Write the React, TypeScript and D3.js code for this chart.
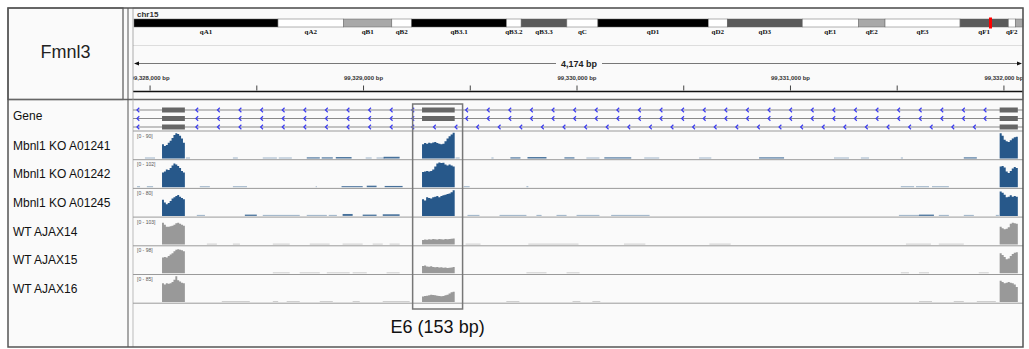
import React from 'react';
import * as d3 from 'd3';

// genomic window shown (chr15, bp)
const WIN_START = 99327920;
const WIN_END = 99332094;
const CHR_NAME = 'chr15';
const CHR_LEN = 103.1; // Mb
const LOCUS_MB = 99.33;
const GENE_NAME = 'Fmnl3';

// cytobands of chr15 (end position in Mb)
const BAND_NAMES = ['qA1', 'qA2', 'qB1', 'qB2', 'qB3.1', 'qB3.2', 'qB3.3', 'qC', 'qD1', 'qD2', 'qD3', 'qE1', 'qE2', 'qE3', 'qF1', 'qF2', 'qF3'];
const BAND_ENDS = [16.7, 24.3, 29.9, 32.2, 43.2, 44.9, 50.2, 53.8, 66.6, 68.8, 77.5, 84.0, 87.1, 95.8, 101.4, 102.2, 103.1];
const BAND_STAINS = ['gpos100', 'gneg', 'gpos50', 'gneg', 'gpos100', 'gneg', 'gpos75', 'gneg', 'gpos100', 'gneg', 'gpos75', 'gneg', 'gpos50', 'gneg', 'gpos75', 'gneg', 'gpos50'];

// exons, as bp offsets from WIN_START: first exon, E6, last exon
const EXONS: [number, number][] = [[136, 243], [1354, 1507], [4060, 4145]];
// which exons each transcript uses (3rd one skips E6)
const TRANSCRIPTS = [[0, 1, 2], [0, 1, 2], [0, 2]];
// boxed region around E6 (offsets)
const HIGHLIGHT: [number, number] = [1310, 1544];

const TRACK_NAMES = ['Mbnl1 KO A01241', 'Mbnl1 KO A01242', 'Mbnl1 KO A01245', 'WT AJAX14', 'WT AJAX15', 'WT AJAX16'];
const TRACK_MAX = [90, 102, 80, 103, 98, 85];
const TRACK_KO = [true, true, true, false, false, false];

// read coverage across each exon (evenly spaced samples)
const COV_EXON1 = [
  [50, 44, 47, 55, 62, 72, 82, 88, 86, 80, 70, 55],
  [58, 62, 70, 68, 76, 86, 94, 90, 84, 76, 64, 58],
  [50, 42, 36, 40, 46, 54, 58, 62, 65, 60, 56, 52],
  [88, 80, 72, 72, 74, 76, 80, 86, 88, 84, 80, 76],
  [60, 62, 60, 66, 72, 76, 84, 90, 92, 90, 88, 84],
  [62, 58, 62, 60, 62, 66, 74, 85, 72, 68, 64, 62],
];
const COV_E6 = [
  [50, 54, 52, 55, 53, 56, 58, 54, 52, 50, 52, 60, 70, 78, 84, 90],
  [60, 62, 64, 62, 64, 70, 82, 94, 98, 96, 97, 90, 86, 90, 86, 82],
  [52, 48, 58, 56, 54, 58, 60, 62, 58, 62, 64, 66, 68, 70, 74, 80],
  [18, 20, 19, 21, 20, 22, 21, 20, 22, 21, 20, 22, 21, 22, 23, 24],
  [28, 30, 26, 25, 27, 24, 23, 24, 22, 23, 21, 22, 20, 21, 22, 24],
  [18, 20, 21, 22, 24, 23, 22, 21, 20, 19, 20, 22, 24, 28, 32, 34],
];
const COV_LAST = [
  [88, 80, 66, 60, 58, 64, 70, 74, 76],
  [82, 84, 78, 62, 56, 64, 74, 80, 76],
  [76, 72, 66, 58, 60, 64, 60, 62, 60],
  [72, 66, 62, 64, 70, 84, 88, 86, 84],
  [76, 70, 62, 54, 56, 66, 74, 78, 80],
  [70, 66, 62, 64, 66, 64, 62, 58, 50],
];

// low background coverage: [start offset, end offset, reads]
const BG_COV: [number, number, number][][] = [
  [[56, 103, 3], [248, 267, 2], [468, 491, 3], [608, 674, 3], [683, 744, 3], [814, 875, 4], [884, 936, 4], [950, 1024, 5], [1090, 1118, 3], [1141, 1179, 3], [1174, 1249, 6], [1511, 1530, 3], [1679, 1689, 3], [1768, 1815, 4], [1848, 1937, 5], [2021, 2068, 4], [2124, 2185, 3], [2208, 2334, 4], [2395, 2465, 3], [2652, 2709, 3], [2933, 3050, 4], [3284, 3354, 3], [3410, 3448, 3], [3597, 3607, 2], [3892, 3953, 4]],
  [[19, 33, 2], [65, 94, 3], [313, 360, 3], [468, 534, 3], [856, 861, 2], [977, 1076, 4], [1095, 1141, 6], [1179, 1263, 5], [1549, 1577, 3], [1843, 1852, 2], [3597, 3659, 3], [3668, 3729, 3], [3743, 3822, 3]],
  [[299, 337, 2], [524, 580, 4], [608, 781, 2], [814, 908, 3], [917, 955, 2], [982, 1029, 6], [1076, 1141, 4], [1170, 1249, 5], [1567, 1623, 2], [1717, 1843, 2], [1890, 1914, 2], [1984, 2031, 2], [2078, 2185, 2], [2240, 2420, 2], [3588, 3682, 3], [3682, 3752, 4], [3775, 3822, 2], [3892, 3939, 3], [4042, 4056, 2]],
  [[346, 393, 2], [468, 501, 2], [655, 734, 2], [828, 921, 3], [982, 1076, 3], [1123, 1170, 2], [1202, 1249, 2], [1558, 1628, 2], [1852, 2087, 3], [2300, 2400, 2], [2700, 2800, 2], [3621, 3738, 3], [3775, 3892, 2]],
  [[655, 734, 2], [781, 875, 3], [908, 1015, 3], [1029, 1095, 2], [1188, 1249, 2], [1843, 1937, 2], [2031, 2092, 2], [3597, 3635, 2], [3682, 3729, 2], [3962, 4009, 2]],
  [[416, 547, 2], [655, 680, 2], [720, 781, 2], [875, 936, 2], [1029, 1062, 2], [1170, 1296, 2], [1749, 1810, 2], [2059, 2096, 2], [2152, 2189, 2], [3682, 3743, 2], [3845, 3892, 2], [3953, 4042, 2]],
];

const STAIN_COLOR: Record<string, string> = {
  gneg: '#ffffff',
  gpos50: '#a8a8a8',
  gpos75: '#5a5a5a',
  gpos100: '#000000',
};

const SANS = '"Liberation Sans", Arial, sans-serif';
const KO_COLOR = '#27588a';
const WT_COLOR = '#999999';

export default function App() {
  const W = 1029;
  const H = 349;
  const L = 8, T = 8, R = 1023, B = 347;
  const NAME_R = 123;
  const ATTR_X = 128;
  const DX0 = 133, DX1 = 1023;
  const HEAD_B = 99.5;
  const TRACK_TOP0 = 131;
  const TRACK_H = 28.7;

  const x = d3.scaleLinear().domain([WIN_START, WIN_END]).range([DX0, 1024]);
  const xo = (o: number) => x(WIN_START + o);
  const ideo = d3.scaleLinear().domain([0, CHR_LEN]).range([DX0 + 1, DX1]);
  const fmt = d3.format(',');

  const ticks = d3.range(99328000, WIN_END, 500);

  // ideogram bands
  const bands = BAND_NAMES.map((name, i) => ({
    name,
    start: i === 0 ? 0 : BAND_ENDS[i - 1],
    end: BAND_ENDS[i],
    stain: BAND_STAINS[i],
  }));

  // gene rows
  const rowY = [110, 118.5, 127];
  const introns = TRANSCRIPTS.map(tr => {
    const segs: [number, number][] = [];
    let prev = DX0 - 7;
    tr.forEach(ei => {
      segs.push([prev, xo(EXONS[ei][0])]);
      prev = xo(EXONS[ei][1]);
    });
    segs.push([prev, DX1]);
    return segs;
  });

  const exonCov = [COV_EXON1, COV_E6, COV_LAST];

  const area = (y0: number, y: d3.ScaleLinear<number, number>) =>
    d3.area<[number, number]>()
      .x(d => d[0])
      .y0(y0)
      .y1(d => y(d[1]))
      .curve(d3.curveStepAfter);

  const ruleY = 63.5;
  const midX = (DX0 + DX1) / 2;

  return (
    <div style={{ position: 'absolute', left: 0, top: 0 }}>
      <svg width={W} height={H} style={{ display: 'block', background: '#fff' }}>
        <defs>
          <clipPath id="dataClip">
            <rect x={DX0} y={T} width={DX1 - DX0} height={B - T} />
          </clipPath>
        </defs>
        <rect x={L} y={T} width={R - L} height={B - T} fill="#fafafa" />

        {/* name header */}
        <rect x={L} y={T} width={NAME_R - L} height={HEAD_B - T} fill="#fafafa" stroke="#555" strokeWidth={1.2} />
        <text x={(L + NAME_R) / 2} y={58} textAnchor="middle" fontFamily={SANS} fontSize={18} fill="#222">{GENE_NAME}</text>

        {/* ideogram */}
        <text x={DX0 + 4} y={17} fontFamily={SANS} fontSize={8} fontWeight="bold" fill="#333">{CHR_NAME}</text>
        {bands.map(b => (
          <rect key={b.name} x={ideo(b.start)} y={19} width={ideo(b.end) - ideo(b.start)} height={8}
            fill={STAIN_COLOR[b.stain]} stroke="#666" strokeWidth={0.5} />
        ))}
        {bands.map(b => {
          const cx = (ideo(b.start) + ideo(b.end)) / 2;
          if (cx + 6 > DX1) return null;
          return (
            <text key={b.name + 'l'} x={cx} y={34} textAnchor="middle" fontFamily='"Liberation Serif", serif'
              fontSize={7} fontWeight="bold" fill="#111">{b.name}</text>
          );
        })}
        <rect x={ideo(LOCUS_MB) - 1.5} y={17.5} width={3} height={11} fill="#ff0000" />
        <line x1={DX0} x2={DX1} y1={45.5} y2={45.5} stroke="#ddd" />

        {/* ruler */}
        <line x1={DX0 + 5} x2={midX - 22} y1={ruleY} y2={ruleY} stroke="#777" />
        <line x1={midX + 24} x2={DX1 - 5} y1={ruleY} y2={ruleY} stroke="#777" />
        <path d={`M${DX0 + 1},${ruleY} L${DX0 + 6},${ruleY - 2} L${DX0 + 6},${ruleY + 2} Z`} fill="#111" />
        <path d={`M${DX1 - 1},${ruleY} L${DX1 - 6},${ruleY - 2} L${DX1 - 6},${ruleY + 2} Z`} fill="#111" />
        <text x={midX + 1} y={ruleY + 3} textAnchor="middle" fontFamily={SANS} fontSize={9} fontWeight="bold" fill="#222">
          {fmt(WIN_END - WIN_START)} bp
        </text>
        <g clipPath="url(#dataClip)">
          {ticks.map(t => (
            <g key={t}>
              <line x1={x(t)} x2={x(t)} y1={85.5} y2={90.5} stroke="#444" />
              {t % 1000 === 0 && (
                <text x={x(t)} y={80} textAnchor="middle" fontFamily={SANS} fontSize={6} fontWeight="bold" fill="#333">
                  {fmt(t)} bp
                </text>
              )}
            </g>
          ))}
        </g>
        <line x1={DX0} x2={DX1} y1={91.5} y2={91.5} stroke="#111" strokeWidth={1.5} />
        <rect x={DX0} y={T} width={DX1 - DX0} height={HEAD_B - T} fill="none" stroke="#999" strokeWidth={0.8} />

        {/* frame lines */}
        <line x1={L} x2={R} y1={HEAD_B} y2={HEAD_B} stroke="#666" strokeWidth={1.5} />
        <line x1={ATTR_X} x2={ATTR_X} y1={T} y2={B} stroke="#555" strokeWidth={1} />
        <line x1={DX0} x2={DX0} y1={HEAD_B} y2={B} stroke="#bbb" strokeWidth={1} />

        {/* track labels */}
        <text x={13} y={120} fontFamily={SANS} fontSize={12} fill="#111">Gene</text>
        {TRACK_NAMES.map((n, i) => (
          <text key={n} x={13} y={TRACK_TOP0 + i * TRACK_H + TRACK_H / 2 + 4.3} fontFamily={SANS} fontSize={12} fill="#111">{n}</text>
        ))}

        <g clipPath="url(#dataClip)">
          {/* gene model */}
          {TRANSCRIPTS.map((tr, r) => (
            <g key={r}>
              <line x1={DX0} x2={DX1} y1={rowY[r]} y2={rowY[r]} stroke="#8a8a8a" strokeWidth={1} />
              {introns[r].map(([s, e], k) =>
                d3.range(s + 12, e - 4, 21.6).map(cx => (
                  <path key={`${k}-${cx}`} d={`M${cx + 1.3},${rowY[r] - 2.2} L${cx - 1},${rowY[r]} L${cx + 1.3},${rowY[r] + 2.2}`}
                    fill="none" stroke="#3c3cf0" strokeWidth={1.2} />
                ))
              )}
              {tr.map(ei => (
                <rect key={ei} x={xo(EXONS[ei][0])} y={rowY[r] - 2.5} width={xo(EXONS[ei][1]) - xo(EXONS[ei][0])} height={5} fill="#666" />
              ))}
            </g>
          ))}

          {/* coverage tracks */}
          {TRACK_NAMES.map((n, i) => {
            const top = TRACK_TOP0 + i * TRACK_H;
            const base = top + TRACK_H - 1.2;
            const y = d3.scaleLinear().domain([0, TRACK_MAX[i]]).range([base, top + 1.8]);
            const color = TRACK_KO[i] ? KO_COLOR : WT_COLOR;
            const gen = area(base, y);
            return (
              <g key={n}>
                {BG_COV[i].map(([s, e, v], k) => (
                  <rect key={k} x={xo(s)} width={Math.max(1, xo(e) - xo(s))}
                    y={base - Math.max(1, base - y(v))} height={Math.max(1, base - y(v))}
                    fill={color} opacity={v < 4 ? 0.45 : 0.85} />
                ))}
                {EXONS.map(([s, e], ei) => {
                  const vals = exonCov[ei][i];
                  const step = (e - s) / vals.length;
                  const pts: [number, number][] = vals.map((v, j) => [xo(s + j * step), v]);
                  pts.push([xo(e), vals[vals.length - 1]]);
                  return <path key={ei} d={gen(pts) || ''} fill={color} />;
                })}
                <text x={DX0 + 4} y={top + 6.5} fontFamily={SANS} fontSize={5} fill="#555">[0 - {TRACK_MAX[i]}]</text>
              </g>
            );
          })}
          {d3.range(TRACK_NAMES.length + 1).map(k => (
            <line key={k} x1={DX0} x2={DX1} y1={TRACK_TOP0 + k * TRACK_H} y2={TRACK_TOP0 + k * TRACK_H} stroke="#9a9a9a" strokeWidth={1} />
          ))}
        </g>

        {/* E6 highlight */}
        <rect x={xo(HIGHLIGHT[0])} y={104} width={xo(HIGHLIGHT[1]) - xo(HIGHLIGHT[0])} height={205}
          fill="none" stroke="#777" strokeWidth={1.5} />
        <text x={(xo(HIGHLIGHT[0]) + xo(HIGHLIGHT[1])) / 2} y={333} textAnchor="middle" fontFamily={SANS} fontSize={18} fill="#111">
          E6 ({EXONS[1][1] - EXONS[1][0]} bp)
        </text>

        {/* outer frame */}
        <rect x={L} y={T} width={R - L} height={B - T} fill="none" stroke="#555" strokeWidth={1.5} />
      </svg>
    </div>
  );
}
